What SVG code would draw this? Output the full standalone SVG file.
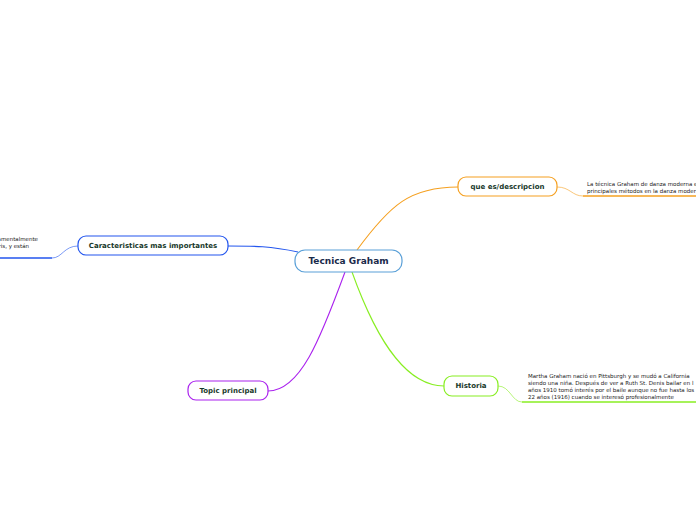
<svg xmlns="http://www.w3.org/2000/svg" width="696" height="520" viewBox="0 0 696 520">
<style>
.node{fill:#ffffff;stroke-width:1.2}
.t{font-family:"DejaVu Sans",Verdana,sans-serif;font-weight:bold;fill:#17382a;text-anchor:middle;dominant-baseline:central}
.leaf{font-family:"DejaVu Sans",Verdana,sans-serif;font-size:5.5px;fill:#222222}
.c{fill:none;stroke-width:1.1}
.u{fill:none;stroke-width:1.5}
.thin{fill:none;stroke-width:0.6}
</style>
<rect width="696" height="520" fill="#ffffff"/>
<g id="connectors">
<path class="c" stroke="#f5a020" d="M357,250 C390,205 410,187 458,187"/>
<path class="c" stroke="#2255ee" d="M298,252 C270,246 255,246 228,246"/>
<path class="c" stroke="#aa22ee" d="M345,272 C320,340 300,391 268,391"/>
<path class="c" stroke="#88ee22" d="M352,272 C380,350 410,386 444,386"/>
<path class="thin" stroke="#f5a020" d="M557,187 C570,187 572,196 583,196"/>
<path class="u" stroke="#f5a020" d="M583,196 L696,196"/>
<path class="thin" stroke="#2255ee" d="M78,246 C64,246 62,258 52,258"/>
<path class="u" stroke="#2255ee" d="M0,258 L52,258"/>
<path class="thin" stroke="#88ee22" d="M498,386 C510,386 512,402 522,402"/>
<path class="u" stroke="#88ee22" d="M522,402 L696,402"/>
</g>
<g id="center">
<rect class="node" stroke="#5aa0d8" x="295" y="250" width="107" height="22" rx="10"/>
<text class="t" x="348.5" y="261" font-size="9" style="fill:#1a2a4a">Tecnica Graham</text>
</g>
<g id="descripcion">
<rect class="node" stroke="#f5a020" x="458" y="177" width="99" height="19" rx="8"/>
<text class="t" x="507.5" y="186.5" font-size="7">que es/descripcion</text>
<text class="leaf" x="587" y="185.5">La técnica Graham de danza moderna e</text>
<text class="leaf" x="587" y="192.5">principales métodos en la danza moder</text>
</g>
<g id="caracteristicas">
<rect class="node" stroke="#2255ee" x="78" y="236" width="150" height="19" rx="8"/>
<text class="t" x="153" y="245.5" font-size="7">Caracteristicas mas importantes</text>
<text class="leaf" x="38" y="241" text-anchor="end">amentalmente</text>
<text class="leaf" x="29" y="248" text-anchor="end">ris, y están</text>
</g>
<g id="topic">
<rect class="node" stroke="#aa22ee" x="188" y="381" width="80" height="19" rx="8"/>
<text class="t" x="228" y="390.5" font-size="7">Topic principal</text>
</g>
<g id="historia">
<rect class="node" stroke="#88ee22" x="444" y="376" width="54" height="20" rx="8"/>
<text class="t" x="471" y="386" font-size="7">Historia</text>
<text class="leaf" x="528" y="377.5">Martha Graham nació en Pittsburgh y se mudó a California</text>
<text class="leaf" x="528" y="384.5">siendo una niña. Después de ver a Ruth St. Denis bailar en l</text>
<text class="leaf" x="528" y="391.5">años 1910 tomó interés por el baile aunque no fue hasta los</text>
<text class="leaf" x="528" y="398.5">22 años (1916) cuando se interesó profesionalmente</text>
</g>
</svg>
